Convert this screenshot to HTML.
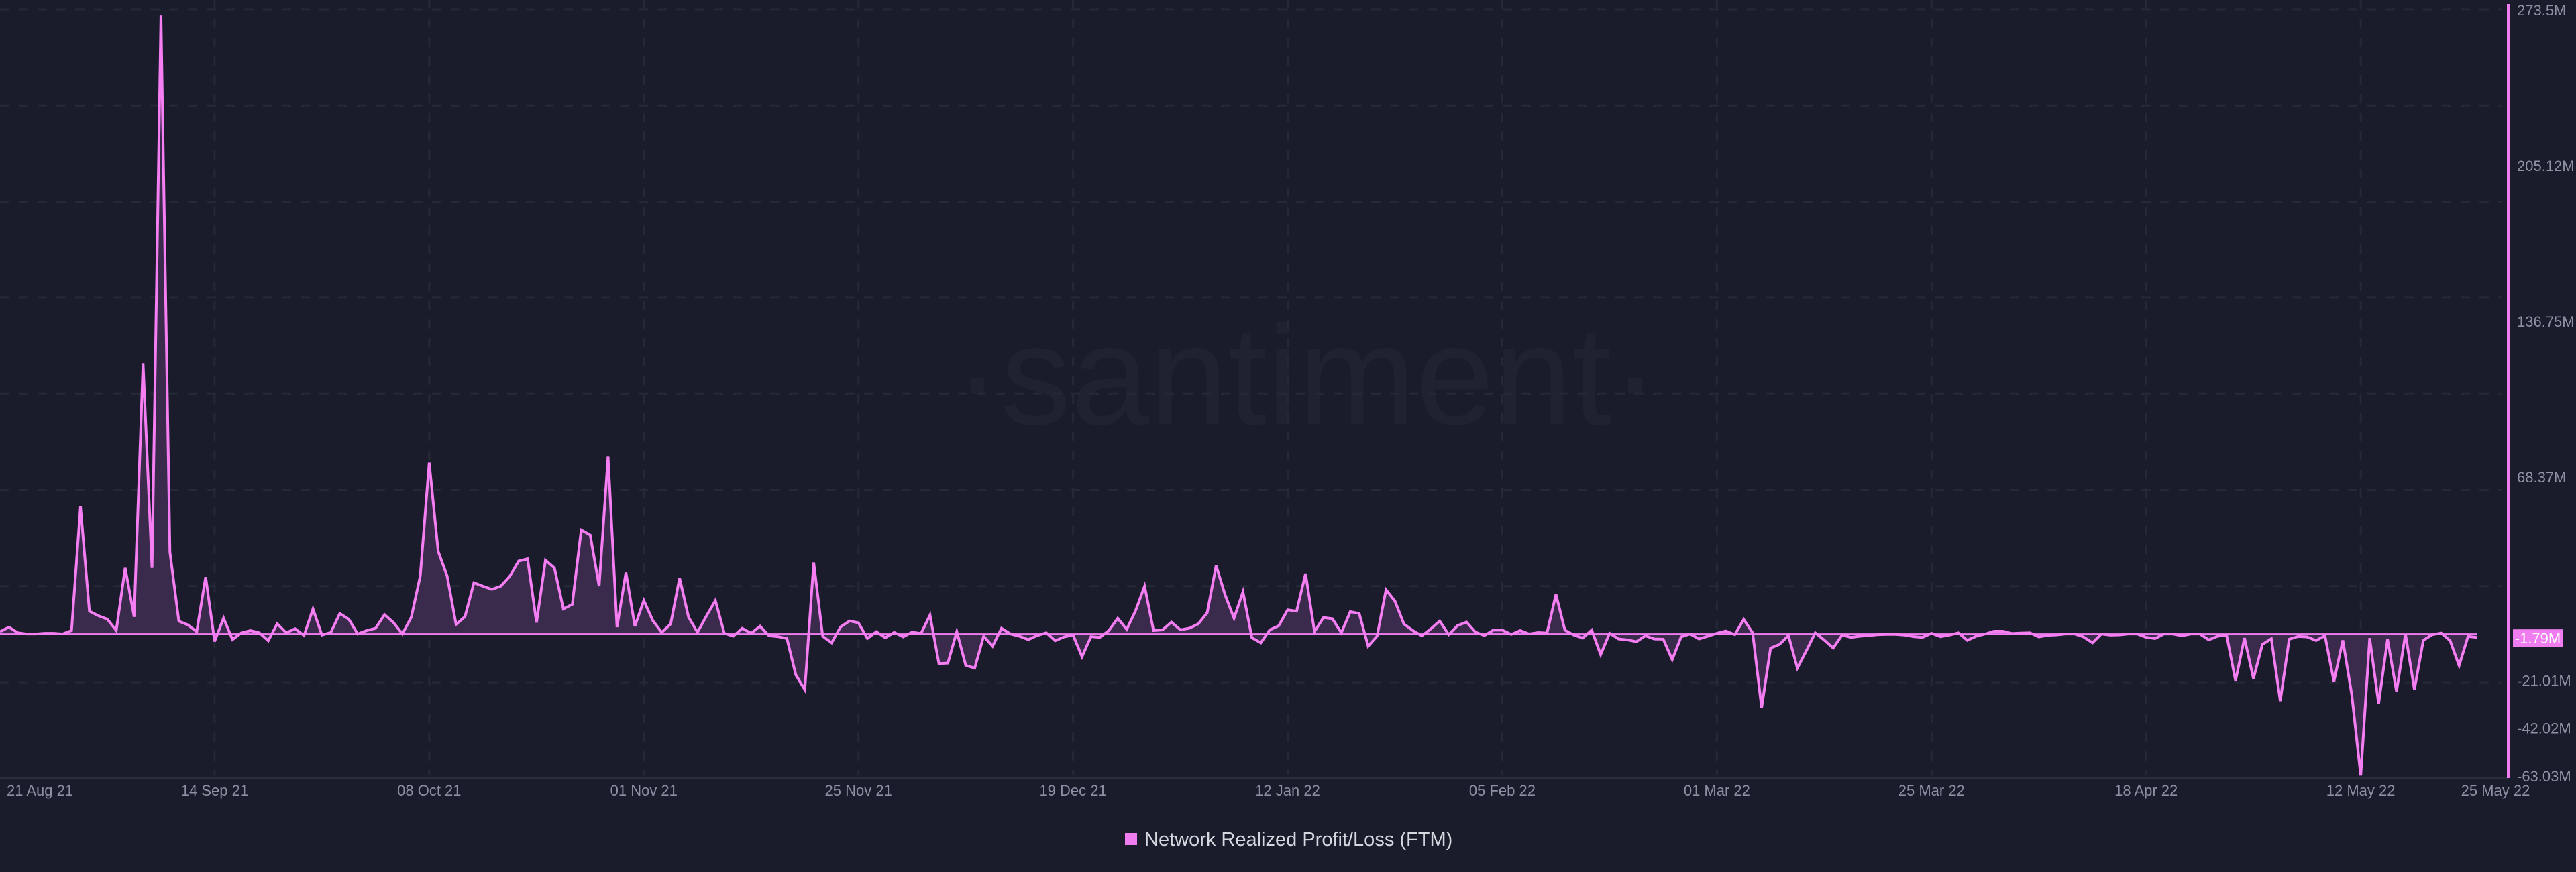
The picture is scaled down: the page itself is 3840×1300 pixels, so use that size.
<!DOCTYPE html>
<html><head><meta charset="utf-8">
<style>
html,body{margin:0;padding:0;background:#1a1c2c;}
#wrap{position:relative;width:3840px;height:1300px;background:#1a1c2c;overflow:hidden;font-family:"Liberation Sans",sans-serif;}
svg{position:absolute;left:0;top:0;}
</style></head>
<body>
<div id="wrap">
<svg id="chart" width="3840" height="1300">
  <text x="1947" y="632" text-anchor="middle" font-size="210" fill="#202231" font-family="Liberation Sans, sans-serif">·santiment·</text>
</svg>
</div>
<script>
const values = [1,3,0.5,0,0,0.3,0.3,0,1.5,56,10,8,6.5,1.5,29,7.5,119,29,271.7,36,5.6,4,1,25,-3.3,7,-2.5,0.5,1.5,0.5,-3,4.5,0.5,2.3,-0.7,11,-0.5,0.7,9,6.5,0,1.5,2.5,8.5,5,0,
7.4,25.5,75.3,36.3,25.5,4.2,7.6,22.5,21,19.6,21,25.3,32,33,5,32.4,29,11,13,45.7,43.5,21,78,3,27,3.4,14.7,5.9,0.7,4.4,24.5,7.4,0.7,7.9,14.7,
0.3,-1,2.5,0.3,3.4,-0.8,-1.2,-2,-18,-24.5,31.4,-1,-3.9,3.1,5.7,4.9,-2,1,-1.7,0.7,-1.3,0.8,0.2,8.3,-13,-12.8,1,-13.8,-15,-1,-5.4,2.5,0,-1,-2.5,-0.7,0.5,-3,
-1.3,-0.5,-10,-1.2,-1.5,1.5,6.9,2,10.3,21,1.5,1.8,5.2,1.8,2.5,4.4,9.3,30,17.2,6.9,18.5,-1.7,-3.9,1.8,3.6,10.6,10,26.5,1,7.2,6.7,0.5,9.8,9,-5.4,
-1,19.4,14.4,4.4,1.5,-0.8,2.2,5.7,-0.3,3.7,5.2,0.8,-0.7,1.7,1.7,-0.2,1.5,0,0.6,0.4,17.4,1.7,-0.5,-1.8,1.7,-9.1,0.3,-2.2,-2.6,-3.4,-0.8,-2.2,-2.3,-11.3,-1.3,0,
-2.2,-1,0.3,1.3,-0.3,6.4,0.5,-32.4,-6.2,-4.6,-0.7,-15,-7.4,0.5,-2.7,-6.2,-0.5,-1.5,-1,-0.7,-0.3,-0.2,-0.2,-0.5,-1.2,-1.5,0.3,-1.2,-0.5,0.5,-2.8,-1,0,1.2,1.2,
0.2,0.4,0.5,-1.3,-0.6,-0.4,0,0,-1.3,-3.9,0,-0.5,-0.4,0,0,-1.5,-2,0,0,-0.8,0,0,-2.6,-1,-0.5,-20.5,
-1.8,-19.6,-4.6,-2.1,-29.5,-2.3,-1.1,-1.3,-2.9,-0.8,-20.9,-2.8,-26.8,-62.2,-1.8,-30.7,-2.3,-25.3,0,-24.4,-2.8,-0.3,0.4,-3,-13.9,-1.1,-1.5];
const xTickLabels = ["21 Aug 21","14 Sep 21","08 Oct 21","01 Nov 21","25 Nov 21","19 Dec 21","12 Jan 22","05 Feb 22","01 Mar 22","25 Mar 22","18 Apr 22","12 May 22","25 May 22"];
const xTickIndex = [0,24,48,72,96,120,144,168,192,216,240,264,277];
const yTickValues = [273.5,205.12,136.75,68.37,-21.01,-42.02,-63.03];
const yTickLabels = ["273.5M","205.12M","136.75M","68.37M","-21.01M","-42.02M","-63.03M"];
const lastValueLabel = "-1.79M";
const lastValue = -1.79;

const NS="http://www.w3.org/2000/svg";
const svg=document.getElementById('chart');
const X0=0, DX=13.33;
const YMAX=273.5, YMIN=-63.03, YTOP=17, YBOT=1159;
function xS(i){return X0+i*DX;}
function yS(v){return YTOP+(YMAX-v)*(YBOT-YTOP)/(YMAX-YMIN);}
function el(tag,attrs){const e=document.createElementNS(NS,tag);for(const k in attrs)e.setAttribute(k,attrs[k]);svg.appendChild(e);return e;}

for(let k=0;k<9;k++){
  const gy=14+k*143.3;
  if(gy>1150)break;
  const g=el('line',{x1:0,x2:3730,y1:gy,y2:gy,stroke:'#252837','stroke-width':3,'stroke-dasharray':'14 14'});
  
  
}
xTickIndex.forEach((ti,k)=>{
  if(k===0||k===xTickIndex.length-1)return;
  const g=el('line',{x1:xS(ti),x2:xS(ti),y1:0,y2:1155,stroke:'#252837','stroke-width':3,'stroke-dasharray':'14 14'});
  
  
});
const ba=el('line',{x1:0,x2:3738,y1:1160,y2:1160,stroke:'#2a2d3e','stroke-width':3});



const y0=yS(0);
let pts=values.map((v,i)=>xS(i).toFixed(2)+','+yS(v).toFixed(2));
const area=el('polygon',{points:xS(0)+','+y0+' '+pts.join(' ')+' '+xS(values.length-1)+','+y0,fill:'#3a2a4b',stroke:'none'});


const base=el('line',{x1:0,x2:xS(values.length-1),y1:y0,y2:y0,stroke:'#f07df0','stroke-width':2});


const line=el('polyline',{points:pts.join(' '),fill:'none',stroke:'#f57ef2','stroke-width':4,'stroke-linejoin':'miter'});



const ra=el('line',{x1:3739,x2:3739,y1:6,y2:1160,stroke:'#f07df0','stroke-width':4});


yTickValues.forEach((v,k)=>{
  const t=el('text',{x:3752,y:yS(v)+6,'font-size':22,fill:'#8e92a6'});
  t.textContent=yTickLabels[k];
  
  
});
const lb=el('rect',{x:3746,y:yS(lastValue)-13,width:75,height:26,fill:'#f07df0'});


const lt=el('text',{x:3783,y:yS(lastValue)+8,'font-size':22,fill:'#ffffff','text-anchor':'middle'});
lt.textContent=lastValueLabel;



xTickIndex.forEach((ti,k)=>{
  let cx=xS(ti), anchor='middle';
  if(k===0){cx=10;anchor='start';}
  if(k===xTickIndex.length-1){cx=3720;}
  const t=el('text',{x:cx,y:1186,'font-size':22,fill:'#8c90a4','text-anchor':anchor});
  t.textContent=xTickLabels[k];
  
  
});

const ls=el('rect',{x:1677,y:1242,width:18,height:18,fill:'#f07df0'});


const ltx=el('text',{x:1706,y:1261,'font-size':29,fill:'#d6d8e0'});
ltx.textContent='Network Realized Profit/Loss (FTM)';


</script>
</body></html>
